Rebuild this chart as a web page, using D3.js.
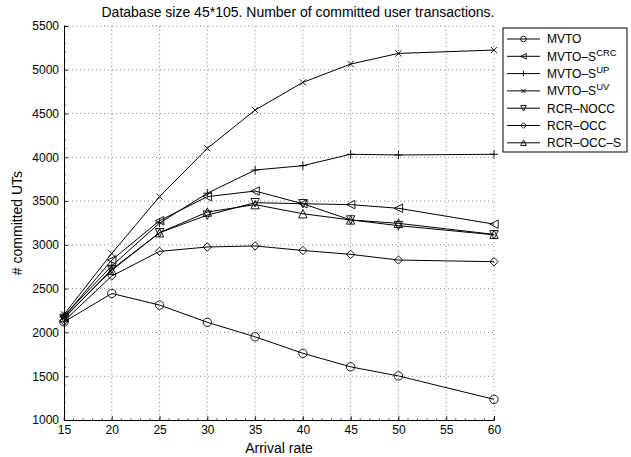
<!DOCTYPE html>
<html>
<head>
<meta charset="utf-8">
<script src="https://cdn.jsdelivr.net/npm/d3@7"></script>
<style>
  body { margin: 0; background: #fff; }
  text { font-family: "Liberation Sans", Arial, Helvetica, sans-serif; fill: #000; }
</style>
</head>
<body>
<svg id="svg" width="631" height="457"></svg>
<script>
// arrival rates on the x axis
var rates = [15, 20, 25, 30, 35, 40, 45, 50, 60];
var xTicks = [15, 20, 25, 30, 35, 40, 45, 50, 55, 60];
var yTicks = [1000, 1500, 2000, 2500, 3000, 3500, 4000, 4500, 5000, 5500];

// committed user transactions per series
var mvto    = [2120, 2445, 2313, 2116, 1950, 1762, 1607, 1503, 1236];
var mvtoCrc = [2180, 2827, 3276, 3551, 3615, 3470, 3460, 3418, 3237];
var mvtoUp  = [2190, 2760, 3250, 3590, 3855, 3905, 4035, 4027, 4035];
var mvtoUv  = [2205, 2903, 3551, 4103, 4540, 4856, 5065, 5187, 5225];
var rcrNocc = [2160, 2720, 3139, 3340, 3482, 3470, 3285, 3220, 3115];
var rcrOcc  = [2130, 2645, 2926, 2976, 2988, 2936, 2892, 2827, 2808];
var rcrOccS = [2170, 2710, 3139, 3375, 3460, 3356, 3285, 3246, 3120];

var seriesNames = [["MVTO", ""], ["MVTO\u2013S", "CRC"], ["MVTO\u2013S", "UP"], ["MVTO\u2013S", "UV"],
                   ["RCR\u2013NOCC", ""], ["RCR\u2013OCC", ""], ["RCR\u2013OCC\u2013S", ""]];
var seriesMarkers = ["circle", "left", "plus", "cross", "down", "diamond", "up"];
var seriesValues = [mvto, mvtoCrc, mvtoUp, mvtoUv, rcrNocc, rcrOcc, rcrOccS];

var margin = {top: 26, right: 137, bottom: 37, left: 64};
var width = 631, height = 457;
var gwidth = width - margin.left - margin.right;
var gheight = height - margin.top - margin.bottom;

var container = d3.select("#svg");
var svg = container.append("g")
    .attr("transform", "translate(" + margin.left + "," + margin.top + ")");

var x = d3.scaleLinear().domain([15, 60]).range([0, gwidth]);
var y = d3.scaleLinear().domain([1000, 5500]).range([gheight, 0]);

// marker path, centred on 0,0
function markerPath(type, s) {
    switch (type) {
      case "circle":
        return "M" + s + ",0A" + s + "," + s + " 0 1,1 " + (-s) + ",0A" + s + "," + s + " 0 1,1 " + s + ",0Z";
      case "left":
        return "M" + (-s) + ",0L" + s + "," + (-s) + "L" + s + "," + s + "Z";
      case "down":
        return "M" + (-s) + "," + (-s) + "L" + s + "," + (-s) + "L0," + s + "Z";
      case "up":
        return "M" + (-s) + "," + s + "L" + s + "," + s + "L0," + (-s) + "Z";
      case "diamond":
        return "M0," + (-s) + "L" + s + ",0L0," + s + "L" + (-s) + ",0Z";
      case "plus":
        return "M" + (-s) + ",0L" + s + ",0M0," + (-s) + "L0," + s;
      case "cross":
        var c = s * 0.75;
        return "M" + (-c) + "," + (-c) + "L" + c + "," + c + "M" + (-c) + "," + c + "L" + c + "," + (-c);
    }
}

// grid
svg.append("g").selectAll("line")
    .data(xTicks.slice(1)).enter().append("line")
    .attr("x1", d => x(d)).attr("x2", d => x(d))
    .attr("y1", 0).attr("y2", gheight)
    .attr("stroke", "#555").attr("stroke-width", 0.7)
    .attr("stroke-dasharray", "1,3");
svg.append("g").selectAll("line")
    .data(yTicks.slice(1)).enter().append("line")
    .attr("x1", 0).attr("x2", gwidth)
    .attr("y1", d => y(d)).attr("y2", d => y(d))
    .attr("stroke", "#555").attr("stroke-width", 0.7)
    .attr("stroke-dasharray", "1,3");

// minor ticks
svg.append("g").selectAll("line")
    .data(d3.range(15, 61, 1)).enter().append("line")
    .attr("x1", d => x(d)).attr("x2", d => x(d))
    .attr("y1", gheight).attr("y2", gheight - 2)
    .attr("stroke", "#000").attr("stroke-width", 0.6);
svg.append("g").selectAll("line")
    .data(d3.range(1000, 5501, 100)).enter().append("line")
    .attr("x1", 0).attr("x2", 2)
    .attr("y1", d => y(d)).attr("y2", d => y(d))
    .attr("stroke", "#000").attr("stroke-width", 0.6);

var xAxis = d3.axisBottom(x).tickValues(xTicks).tickSize(-4).tickPadding(5).tickFormat(d3.format("d"));
var yAxis = d3.axisLeft(y).tickValues(yTicks).tickSize(-4).tickPadding(5).tickFormat(d3.format("d"));

var gx = svg.append("g").attr("transform", "translate(0," + gheight + ")").call(xAxis);
var gy = svg.append("g").call(yAxis);
[gx, gy].forEach(function(g) {
    g.select(".domain").attr("stroke-width", 1);
    g.selectAll(".tick line").attr("stroke-width", 0.8);
    g.selectAll("text").attr("font-size", 12).attr("font-family", "Liberation Sans, Arial, sans-serif");
});

// lines and markers
var line = d3.line()
    .x(function(d, i) { return x(rates[i]); })
    .y(function(d) { return y(d); });

seriesValues.forEach(function(vals, k) {
    svg.append("path").datum(vals)
        .attr("fill", "none")
        .attr("stroke", "#000")
        .attr("stroke-width", 1)
        .attr("d", line);
    svg.append("g").selectAll("path")
        .data(vals).enter().append("path")
        .attr("transform", function(d, i) { return "translate(" + x(rates[i]) + "," + y(d) + ")"; })
        .attr("d", markerPath(seriesMarkers[k], 4.2))
        .attr("fill", "none")
        .attr("stroke", "#000")
        .attr("stroke-width", 0.9);
});

// titles
container.append("text")
    .attr("x", 298).attr("y", 17)
    .attr("text-anchor", "middle").attr("font-size", 14)
    .text("Database size 45*105. Number of committed user transactions.");
container.append("text")
    .attr("x", margin.left + gwidth / 2).attr("y", 453)
    .attr("text-anchor", "middle").attr("font-size", 14)
    .text("Arrival rate");
container.append("text")
    .attr("transform", "translate(22," + (margin.top + gheight / 2) + ") rotate(-90)")
    .attr("text-anchor", "middle").attr("font-size", 14)
    .text("# committed UTs");

// legend
var legend = container.append("g").attr("transform", "translate(503,28)");
legend.append("rect")
    .attr("width", 124).attr("height", 124)
    .attr("fill", "#fff").attr("stroke", "#000").attr("stroke-width", 1);
seriesNames.forEach(function(name, k) {
    var ly = 11 + k * 17.3;
    legend.append("line")
        .attr("x1", 4).attr("x2", 37).attr("y1", ly).attr("y2", ly)
        .attr("stroke", "#000").attr("stroke-width", 1);
    legend.append("path")
        .attr("transform", "translate(20.5," + ly + ")")
        .attr("d", markerPath(seriesMarkers[k], 2.8))
        .attr("fill", "none").attr("stroke", "#000").attr("stroke-width", 0.9);
    var t = legend.append("text")
        .attr("x", 44).attr("y", ly + 4.3)
        .attr("font-size", 12)
        .text(name[0]);
    if (name[1]) {
        t.append("tspan").attr("dy", -5).attr("font-size", 9.5).text(name[1]);
    }
});
</script>
</body>
</html>
